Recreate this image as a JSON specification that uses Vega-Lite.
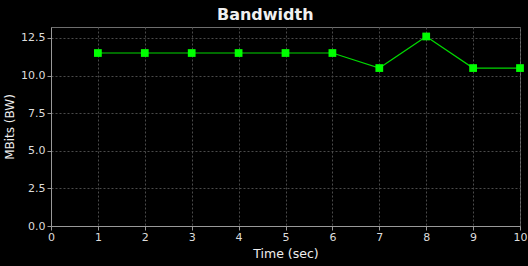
{
  "$schema": "https://vega.github.io/schema/vega-lite/v6.json",
  "width": 469,
  "height": 199,
  "autosize": {"type": "none"},
  "padding": {"left": 51, "top": 27, "right": 8, "bottom": 40},
  "background": "#000000",
  "title": {
    "text": "Bandwidth",
    "font": "DejaVu Sans",
    "fontSize": 16,
    "fontWeight": "bold",
    "color": "#f0f0f0",
    "anchor": "middle",
    "frame": "bounds",
    "offset": 4
  },
  "config": {
    "view": {"stroke": "#6e6e6e", "strokeWidth": 1},
    "axis": {
      "labelFont": "DejaVu Sans",
      "titleFont": "DejaVu Sans",
      "labelFontSize": 11,
      "titleFontSize": 12,
      "labelColor": "#dddddd",
      "titleColor": "#eeeeee",
      "titleFontWeight": "normal",
      "domainColor": "#999999",
      "tickColor": "#999999",
      "tickSize": 4,
      "gridColor": "#4a4a4a",
      "gridDash": [2, 2],
      "gridWidth": 1
    }
  },
  "data": {
    "values": [
      {"t": 1, "bw": 11.5},
      {"t": 2, "bw": 11.5},
      {"t": 3, "bw": 11.5},
      {"t": 4, "bw": 11.5},
      {"t": 5, "bw": 11.5},
      {"t": 6, "bw": 11.5},
      {"t": 7, "bw": 10.5},
      {"t": 8, "bw": 12.6},
      {"t": 9, "bw": 10.5},
      {"t": 10, "bw": 10.5}
    ]
  },
  "encoding": {
    "x": {
      "field": "t",
      "type": "quantitative",
      "scale": {"domain": [0, 10], "nice": false},
      "axis": {"title": "Time (sec)", "titleFontSize": 12.5, "values": [0,1,2,3,4,5,6,7,8,9,10], "labelPadding": 1, "titlePadding": 5, "labelOverlap": false, "labelSeparation": 0, "labelFlush": false}
    },
    "y": {
      "field": "bw",
      "type": "quantitative",
      "scale": {"domain": [0, 13.23], "nice": false},
      "axis": {"title": "MBits (BW)", "values": [0, 2.5, 5, 7.5, 10, 12.5], "format": ".1f", "labelPadding": 2, "titlePadding": 4}
    }
  },
  "layer": [
    {"mark": {"type": "line", "color": "#00d800", "strokeWidth": 1.2}},
    {"mark": {"type": "point", "shape": "square", "filled": true, "color": "#00ff00", "opacity": 1, "size": 60}}
  ]
}
